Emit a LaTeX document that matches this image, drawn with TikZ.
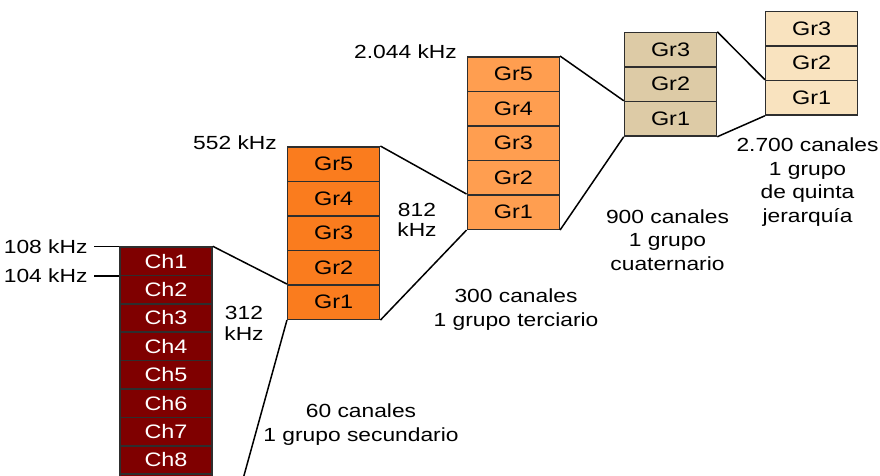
\documentclass[tikz,border=0pt]{standalone}
\usepackage{fontspec}
\setmainfont[FakeStretch=1.2]{Liberation Sans}
\usetikzlibrary{positioning}
\definecolor{chred}{HTML}{7F0000}
\definecolor{grorange}{HTML}{FA7C1E}
\definecolor{grlight}{HTML}{FF9E50}
\definecolor{grtan}{HTML}{DDCBA6}
\definecolor{grcream}{HTML}{F9E3BF}
\definecolor{cellline}{HTML}{2E2E2E}
\tikzset{
  cell/.style={draw=cellline, line width=1.5pt, minimum width=92pt, inner sep=0pt,
    font=\fontsize{19.5}{23.5}\selectfont},
  chcell/.style={cell, fill=chred, text=white, minimum height=28.4pt},
  grcell/.style={cell, minimum height=34.5pt},
  freq/.style={inner sep=0pt, font=\fontsize{19}{23.5}\selectfont},
  info/.style={freq, align=center},
  khz/.style={info, font=\fontsize{19}{20.5}\selectfont},
  link/.style={line width=1.5pt},
}
\begin{document}
\begin{tikzpicture}[x=1pt,y=-1pt]
            \useasboundingbox (0,0) rectangle (880,475);
            \clip (0,0) rectangle (880,475);
            
            % Channels of the basic group (the last ones run off the page)
            \foreach \i in {1,...,8}
              \node[chcell] (ch\i) at (166,{247+28.4*\i-14.2}) {Ch\i};
            \foreach \i in {9,...,12}
              \node[chcell] (ch\i) at (166,{247+28.4*\i-14.2}) {};
            
            % Secondary group
            \foreach \i in {1,...,5}
              \node[grcell, fill=grorange] (sec\i) at (333.7,{319.3-34.5*\i+17.25}) {Gr\i};
            
            % Tertiary group
            \foreach \i in {1,...,5}
              \node[grcell, fill=grlight] (ter\i) at (513.3,{229.3-34.5*\i+17.25}) {Gr\i};
            
            % Quaternary group
            \foreach \i in {1,2,3}
              \node[grcell, fill=grtan] (cua\i) at (670.5,{136-34.5*\i+17.25}) {Gr\i};
            
            % Fifth order group
            \foreach \i in {1,2,3}
              \node[grcell, fill=grcream] (qui\i) at (811.7,{115-34.5*\i+17.25}) {Gr\i};
            
            % Fanning lines between the blocks
            \draw[link] (ch1.north east) -- (sec1.north west);
            \draw[link] (ch12.south east) -- (sec1.south west);
            \draw[link] (sec5.north east) -- (ter1.north west);
            \draw[link] (sec1.south east) -- (ter1.south west);
            \draw[link] (ter5.north east) -- (cua1.north west);
            \draw[link] (ter1.south east) -- (cua1.south west);
            \draw[link] (cua3.north east) -- (qui1.north west);
            \draw[link] (cua1.south east) -- (qui1.south west);
            
            % Frequency marks
            \draw[link] (ch1.north west) -- ++(-25,0) node[freq, left=6pt] (f108) {108 kHz};
            \draw[link] (ch1.south west) -- ++(-25,0) node[freq, left=6pt] (f104) {104 kHz};
            \node[freq, anchor=east] (f552) at (277,143) {552 kHz};
            \node[freq, anchor=east] (f2044) at (457,52) {2.044 kHz};
            \node[khz] (f312) at (244,323.2) {312\\kHz};
            \node[khz] (f812) at (417,219.7) {812\\kHz};
            
            % Channel counts
            \node[info] (sec) at (361,424.5) {60 canales\\1 grupo secundario};
            \node[info] (ter) at (516,309.7) {300 canales\\1 grupo terciario};
            \node[info] (cua) at (667.5,239.7) {900 canales\\1 grupo\\cuaternario};
            \node[info] (qui) at (807.5,182.2) {2.700 canales\\1 grupo\\de quinta\\jerarquía};
\end{tikzpicture}
\end{document}
